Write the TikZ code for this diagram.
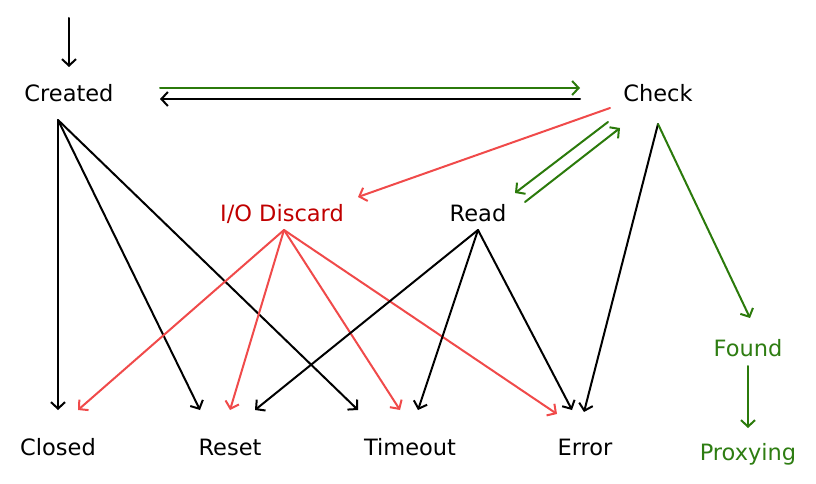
\documentclass[tikz,border=0pt]{standalone}
\usepackage{fontspec}
\setmainfont{DejaVu Sans}
\usetikzlibrary{arrows.meta}
\definecolor{grn}{HTML}{2B7A0B}
\definecolor{lred}{HTML}{F04A4A}
\definecolor{dred}{HTML}{C00000}
\definecolor{gtext}{HTML}{2E7D12}
\tikzset{
  lbl/.style={font=\fontsize{22.5}{26}\selectfont, inner sep=0pt, anchor=base},
  tr/.style={-{Straight Barb[length=6.5pt,width=14pt]}, line width=2pt, line cap=round},
  blk/.style={tr, black},
  gr/.style={tr, grn},
  rd/.style={tr, lred},
}
\begin{document}
\begin{tikzpicture}[x=1pt,y=-1pt]
\useasboundingbox (0,0) rectangle (816,484);
% nodes (base points)
\node[lbl] (created) at (69,102) {Created};
\node[lbl] (check) at (658,102) {Check};
\node[lbl, text=dred] (discard) at (282,221) {I/O Discard};
\node[lbl] (read) at (478,221) {Read};
\node[lbl, text=gtext] (found) at (748,356) {Found};
\node[lbl, text=gtext] (proxying) at (748,460) {Proxying};
\node[lbl] (closed) at (58,455) {Closed};
\node[lbl] (reset) at (230,455) {Reset};
\node[lbl] (timeout) at (410,455) {Timeout};
\node[lbl] (error) at (585,455) {Error};
% ports
\coordinate (start) at (69,18);
\coordinate (crIn) at (69,67);
\coordinate (crOut) at (58,120);
\coordinate (ckOut) at (658,124);
\coordinate (dcOut) at (284,230);
\coordinate (rdOut) at (478,230);
% initial
\draw[blk] (start) -- (crIn);
% created <-> check
\draw[gr] (160,88) -- (580,88);
\draw[blk] (580,99) -- (160,99);
% created fan
\draw[blk] (crOut) -- (58,410);
\draw[blk] (crOut) -- (200,410);
\draw[blk] (crOut) -- (358,410);
% check
\draw[rd] (610,108) -- (358,197);
\draw[gr] (608,122) -- (515,193);
\draw[gr] (525,202) -- (620,128);
\draw[blk] (ckOut) -- (584,412);
\draw[gr] (ckOut) -- (750,318);
% discard fan
\draw[rd] (dcOut) -- (78,410);
\draw[rd] (dcOut) -- (230,410);
\draw[rd] (dcOut) -- (400,410);
\draw[rd] (dcOut) -- (557,414);
% read fan
\draw[blk] (rdOut) -- (255,410);
\draw[blk] (rdOut) -- (418,410);
\draw[blk] (rdOut) -- (572,410);
% found -> proxying
\draw[gr] (748,366) -- (748,428);
\end{tikzpicture}
\end{document}
